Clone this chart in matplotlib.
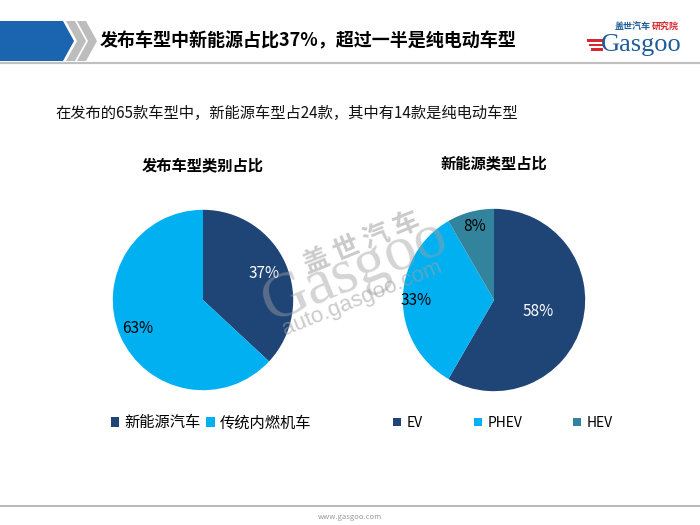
import numpy as np
import matplotlib
matplotlib.use("Agg")
import matplotlib.pyplot as plt
from matplotlib.patches import Polygon, Rectangle

plt.rcParams['font.family'] = ['Noto Sans CJK SC', 'DejaVu Sans']

# --- data ---
title = "发布车型中新能源占比37%，超过一半是纯电动车型"
subtitle = "在发布的65款车型中，新能源车型占24款，其中有14款是纯电动车型"

left_title = "发布车型类别占比"
left_labels = ["新能源汽车", "传统内燃机车"]
left_counts = [24, 41]

right_title = "新能源类型占比"
right_labels = ["EV", "PHEV", "HEV"]
right_counts = [14, 8, 2]

# --- colours ---
NAVY = "#1F4577"
SKY = "#00B0F0"
TEAL = "#31849B"
HEADER_BLUE = "#1B64B0"
LOGO_BLUE = "#1F5C99"
LOGO_RED = "#D7282F"

W, H = 700, 525
fig = plt.figure(figsize=(7, 5.25), dpi=100)

# overlay axes in pixel coordinates for the slide furniture
bg = fig.add_axes([0, 0, 1, 1])
bg.set_xlim(0, W)
bg.set_ylim(H, 0)
bg.axis("off")

# header band + chevrons
bg.add_patch(Polygon([(0, 21), (63, 21), (74, 41), (63, 61), (0, 61)],
                     closed=True, color=HEADER_BLUE, lw=0))
for off in (0, 11):
    x0 = 66 + off
    bg.add_patch(Polygon([(x0, 21), (x0 + 9, 21), (x0 + 20, 41), (x0 + 9, 61),
                          (x0, 61), (x0 + 11, 41)],
                         closed=True, color="#BDBDBD", lw=0))
bg.plot([0, W], [62.5, 62.5], color="#C0C0C0", lw=1.6)
bg.text(100, 41, title, fontsize=13, fontweight="bold", va="center", ha="left",
        color="black")

# logo
for i, yy in enumerate([39, 43.5, 48]):
    bg.add_patch(Rectangle((587 + i * 2, yy), 16 - i * 2, 2.6, color=LOGO_RED, lw=0))
bg.text(601, 45, "Gasgoo", family="Liberation Serif", fontsize=19,
        color=LOGO_BLUE, va="center", ha="left")
bg.text(615, 27, "盖世汽车", fontsize=6.5, color=LOGO_BLUE, va="center",
        ha="left", fontweight="bold")
bg.text(652, 27, "研究院", fontsize=6.5, color=LOGO_RED, va="center",
        ha="left", fontweight="bold")

# subtitle
bg.text(55, 113, subtitle, fontsize=11, va="center", ha="left", color="#111111")

# footer
bg.plot([0, W], [506, 506], color="#B8B8B8", lw=1.4)
bg.text(350, 517, "www.gasgoo.com", fontsize=5.5, color="#999999",
        ha="center", va="center")


def draw_pie(cx, cy, r, counts, colors, pct_r, pct_colors):
    ax = fig.add_axes([(cx - r) / W, 1 - (cy + r) / H, 2 * r / W, 2 * r / H])
    wedges, _ = ax.pie(counts, colors=colors, startangle=90, counterclock=False,
                       radius=1, wedgeprops=dict(lw=0))
    total = sum(counts)
    for w, c, d, tc in zip(wedges, counts, pct_r, pct_colors):
        ang = np.deg2rad((w.theta1 + w.theta2) / 2)
        ax.text(d * np.cos(ang), d * np.sin(ang), f"{c / total * 100:.0f}%",
                ha="center", va="center", fontsize=11, color=tc)
    ax.set_xlim(-1.02, 1.02)
    ax.set_ylim(-1.02, 1.02)
    ax.axis("off")
    return ax, wedges


axl, wl = draw_pie(203, 300, 92, left_counts, [NAVY, SKY],
                   [0.74, 0.79], ["white", "black"])
axr, wr = draw_pie(494, 300, 93, right_counts, [NAVY, SKY, TEAL],
                   [0.50, 0.85, 0.83], ["white", "black", "black"])

fig.text(203 / W, 1 - 165 / H, left_title, fontsize=11, fontweight="bold",
         ha="center", va="center")
fig.text(494 / W, 1 - 163 / H, right_title, fontsize=11, fontweight="bold",
         ha="center", va="center")

fig.legend(wl, left_labels, loc="center", bbox_to_anchor=(211 / W, 1 - 423 / H),
           ncol=2, frameon=False, fontsize=11, handlelength=0.55,
           handleheight=0.55, handletextpad=0.3, columnspacing=0.4)
fig.legend(wr, right_labels, loc="center", bbox_to_anchor=(503 / W, 1 - 423 / H),
           ncol=3, frameon=False, fontsize=10, handlelength=0.55,
           handleheight=0.55, handletextpad=0.4, columnspacing=3.7)

# faint watermark
wm = fig.add_axes([0, 0, 1, 1], facecolor="none")
wm.set_xlim(0, W)
wm.set_ylim(H, 0)
wm.axis("off")
wm.text(362, 243, "盖 世 汽 车", fontsize=19, color="#A0A0A0", alpha=0.55,
        rotation=22, ha="center", va="center", fontweight="bold")
wm.text(355, 272, "Gasgoo", family="Liberation Serif", fontsize=46,
        color="#A0A0A0", alpha=0.45, rotation=22, ha="center", va="center")
wm.text(362, 298, "auto.gasgoo.com", family="Liberation Sans", fontsize=16,
        color="#A0A0A0", alpha=0.55, rotation=22, ha="center", va="center")

fig.savefig("out.png", dpi=100)
